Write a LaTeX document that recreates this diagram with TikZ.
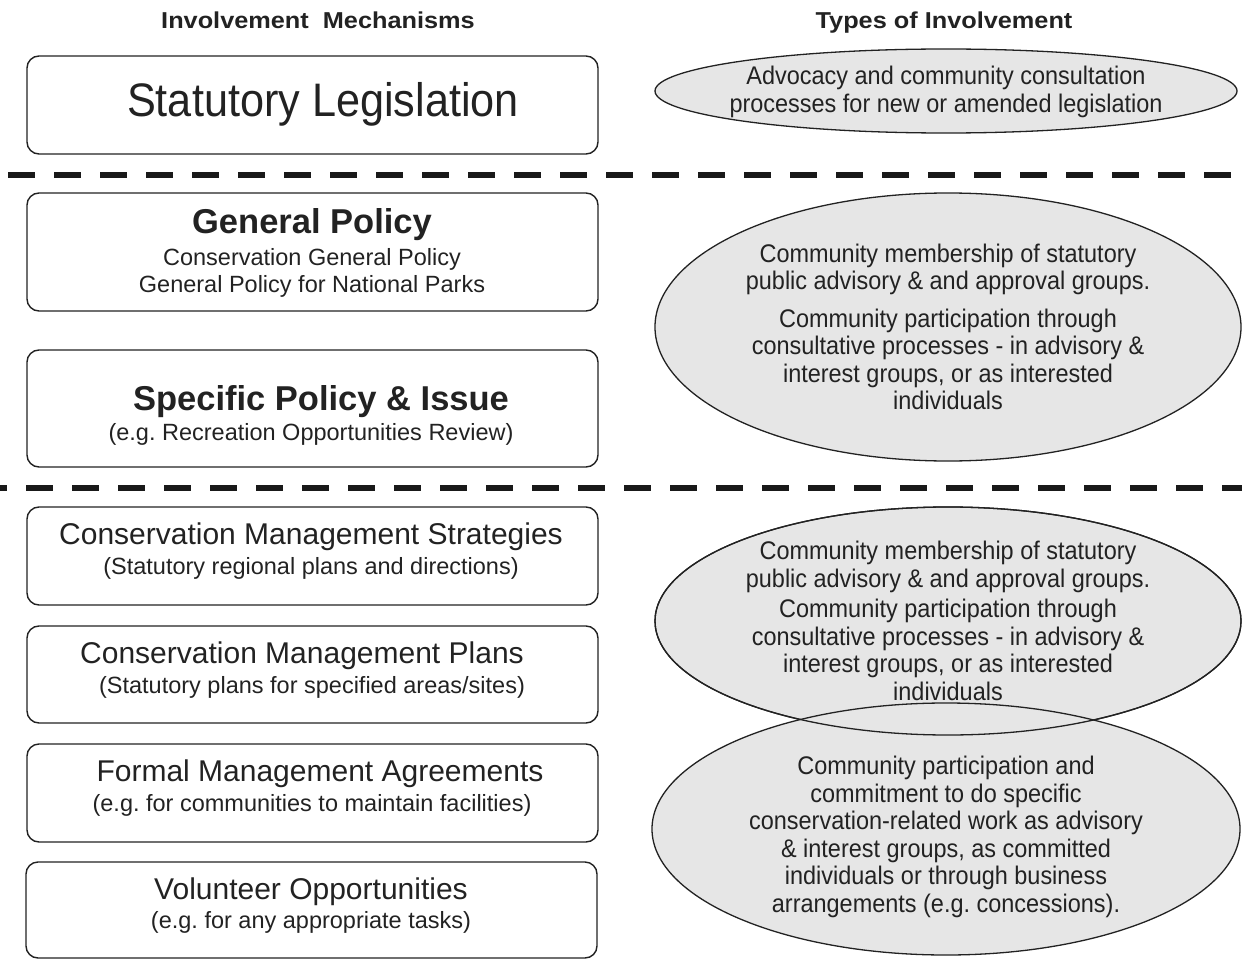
\documentclass[tikz,border=0pt]{standalone}
\usepackage{fontspec}
\setmainfont{Liberation Sans}
\newfontfamily\narrowsans{Liberation Sans}[FakeStretch=0.92]
\newfontfamily\widesans{Liberation Sans}[FakeStretch=1.1]
\usetikzlibrary{shapes.geometric}
\definecolor{ink}{HTML}{222222}
\definecolor{bubble}{HTML}{E6E6E6}
\frenchspacing
\begin{document}
\begin{tikzpicture}[x=1pt,y=-1pt,
  mech/.style={draw=ink, line width=1.4pt, rounded corners=12pt, minimum width=571pt, inner sep=0pt},
  kind/.style={ellipse, draw=ink, line width=1.3pt, fill=bubble, inner sep=0pt},
  rim/.style={draw=ink, line width=1.3pt},
  head/.style={anchor=base, font=\widesans\fontsize{23}{27}\selectfont\bfseries, text=ink},
  bigtitle/.style={font=\narrowsans\fontsize{47}{52}\selectfont, text=ink},
  boldtitle/.style={font=\fontsize{34.5}{40}\selectfont\bfseries, text=ink},
  title/.style={font=\fontsize{30}{36}\selectfont, text=ink},
  sub/.style={font=\fontsize{23.5}{27}\selectfont, text=ink},
  note/.style={font=\narrowsans\fontsize{25.5}{27.5}\selectfont, text=ink, align=center},
  divider/.style={draw=black!90, line width=6pt, dash pattern=on 27pt off 19pt}
]
\useasboundingbox (0,0) rectangle (1242,960);

% column headings
\node[head] (hl) at (318,29) {Involvement\ \ Mechanisms};
\node[head] (hr) at (944,29) {Types of Involvement};

% dividers between the three tiers
\coordinate (d1l) at (0,175);  \coordinate (d1r) at (1242,175);
\coordinate (d2l) at (0,488);  \coordinate (d2r) at (1242,488);
\draw[divider, dash phase=38pt] (d1l) -- (d1r);
\draw[divider, dash phase=20pt] (d2l) -- (d2r);

% involvement mechanisms
\node[mech, minimum height=98pt]  (b1) at (312.5,105) {};
\node[mech, minimum height=118pt] (b2) at (312.5,252) {};
\node[mech, minimum height=117pt] (b3) at (312.5,408.5) {};
\node[mech, minimum height=98pt]  (b4) at (312.5,556) {};
\node[mech, minimum height=97pt]  (b5) at (312.5,674.5) {};
\node[mech, minimum height=98pt]  (b6) at (312.5,793) {};
\node[mech, minimum height=96pt]  (b7) at (311.5,910) {};

\node[bigtitle]  (t1)  at (323,104) {Statutory Legislation};
\node[boldtitle] (t2)  at (312,225) {General Policy};
\node[sub]       (t2a) at (312,259) {Conservation General Policy};
\node[sub]       (t2b) at (312,286) {General Policy for National Parks};
\node[boldtitle] (t3)  at (321,402) {Specific Policy \& Issue};
\node[sub]       (t3a) at (311,434) {(e.g. Recreation Opportunities Review)};
\node[title]     (t4)  at (311,537) {Conservation Management Strategies};
\node[sub]       (t4a) at (311,568) {(Statutory regional plans and directions)};
\node[title]     (t5)  at (302,656) {Conservation Management Plans};
\node[sub]       (t5a) at (312,687) {(Statutory plans for specified areas/sites)};
\node[title]     (t6)  at (320,774) {Formal Management Agreements};
\node[sub]       (t6a) at (312,805) {(e.g. for communities to maintain facilities)};
\node[title]     (t7)  at (311,892) {Volunteer Opportunities};
\node[sub]       (t7a) at (311,922) {(e.g. for any appropriate tasks)};

% types of involvement
\node[kind, minimum width=582pt, minimum height=84pt]  (e1) at (946,91) {};
\node[kind, minimum width=586pt, minimum height=268pt] (e2) at (948,327) {};
\node[kind, minimum width=586pt, minimum height=228pt] (e3) at (948,621) {};
\node[kind, minimum width=588pt, minimum height=252pt] (e4) at (946,829) {};
\draw[rim] (e3.center) ellipse [x radius=293, y radius=114];

\node[note] (n1) at (946,92) {Advocacy and community consultation\\processes for new or amended legislation};
\node[note] (n2) at (948,327) {Community membership of statutory\\public advisory \& and approval groups.\\[10pt]Community participation through\\consultative processes - in advisory \&\\interest groups, or as interested\\individuals};
\node[note] (n3) at (948,621) {Community membership of statutory\\public advisory \& and approval groups.\\[3pt]Community participation through\\consultative processes - in advisory \&\\interest groups, or as interested\\individuals};
\node[note] (n4) at (946,837) {Community participation and\\commitment to do specific\\conservation-related work as advisory\\\& interest groups, as committed\\individuals or through business\\arrangements (e.g. concessions).};
\end{tikzpicture}
\end{document}
